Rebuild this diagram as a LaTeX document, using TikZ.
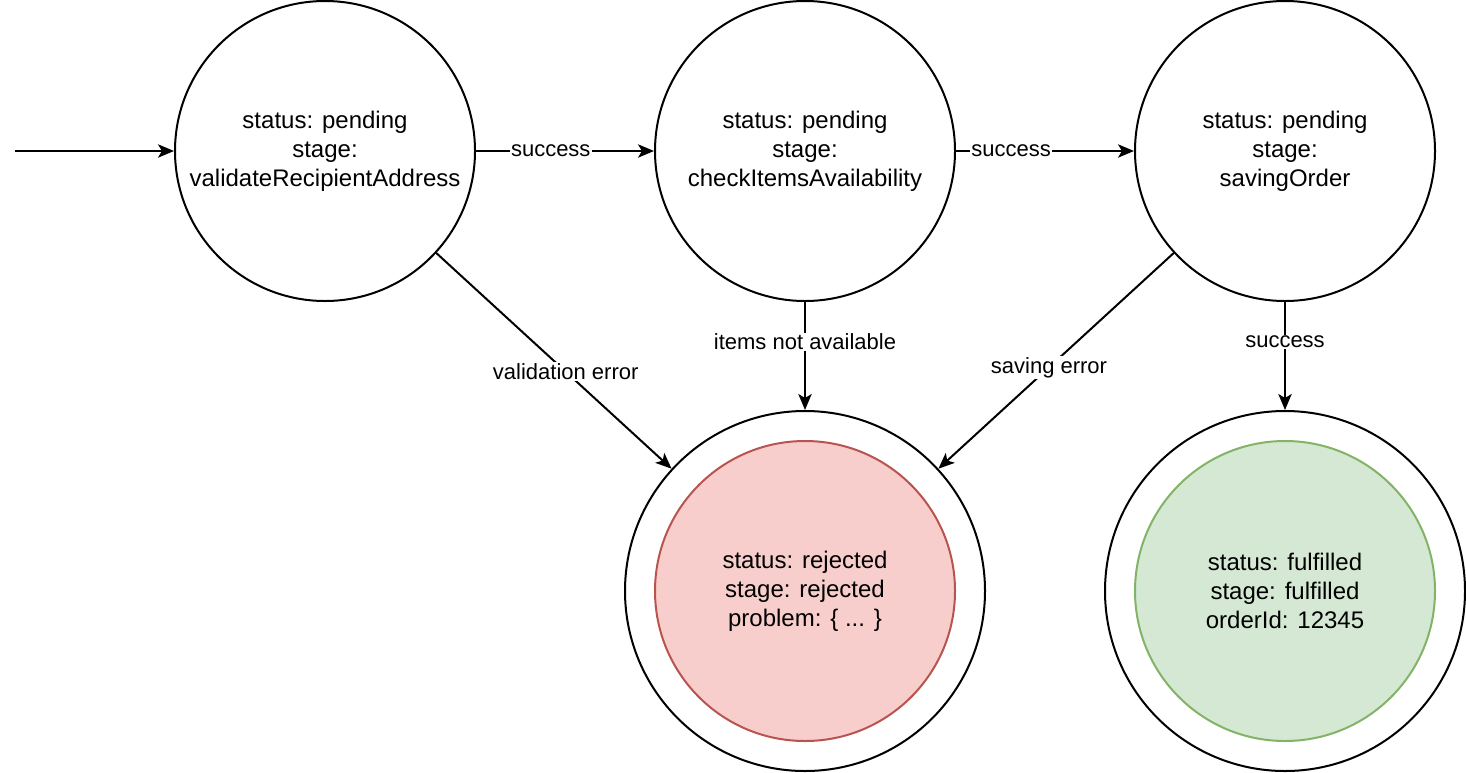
\documentclass[tikz,border=0pt]{standalone}
\usepackage{fontspec}
\setmainfont{Liberation Sans}
\usetikzlibrary{arrows.meta}
\definecolor{redfill}{HTML}{F8CECC}
\definecolor{redline}{HTML}{B85450}
\definecolor{greenfill}{HTML}{D5E8D4}
\definecolor{greenline}{HTML}{82B366}
\begin{document}
\begin{tikzpicture}[x=0.75pt,y=-0.75pt,
  state/.style={circle, draw, line width=1.5pt, minimum size=225pt, inner sep=0pt, align=center, font=\fontsize{18}{21.75}\selectfont},
  outerstate/.style={circle, draw, line width=1.5pt, minimum size=270pt, inner sep=0pt},
  conn/.style={line width=1.5pt, -{Stealth[length=12pt, width=10pt, inset=3pt]}},
  lbl/.style={fill=white, inner sep=1pt, font=\fontsize{16.5}{19}\selectfont}]
\useasboundingbox (0,0) rectangle (1466,772);
\node[state] (A) at (325,151) {status: pending\\stage:\\validateRecipientAddress};
\node[state] (B) at (805,151) {status: pending\\stage:\\checkItemsAvailability};
\node[state] (C) at (1285,151) {status: pending\\stage:\\savingOrder};
\node[outerstate] (rej) at (805,591) {};
\node[state, fill=redfill, draw=redline] (rejin) at (805,591) {status: rejected\\stage: rejected\\problem: \{ ... \}};
\node[outerstate] (ful) at (1285,591) {};
\node[state, fill=greenfill, draw=greenline] (fulin) at (1285,591) {status: fulfilled\\stage: fulfilled\\orderId: 12345};
\coordinate (start) at (15,151);
\draw[conn] (start) -- (A);
\draw[conn] (A) -- node[lbl, pos=0.42] {success} (B);
\draw[conn] (B) -- node[lbl, pos=0.31] {success} (C);
\draw[conn] (A) -- node[lbl, pos=0.55] {validation error} (rej);
\draw[conn] (B) -- node[lbl, pos=0.37] {items not available} (rej);
\draw[conn] (C) -- node[lbl, pos=0.53] {saving error} (rej);
\draw[conn] (C) -- node[lbl, pos=0.37] {success} (ful);
\end{tikzpicture}
\end{document}
